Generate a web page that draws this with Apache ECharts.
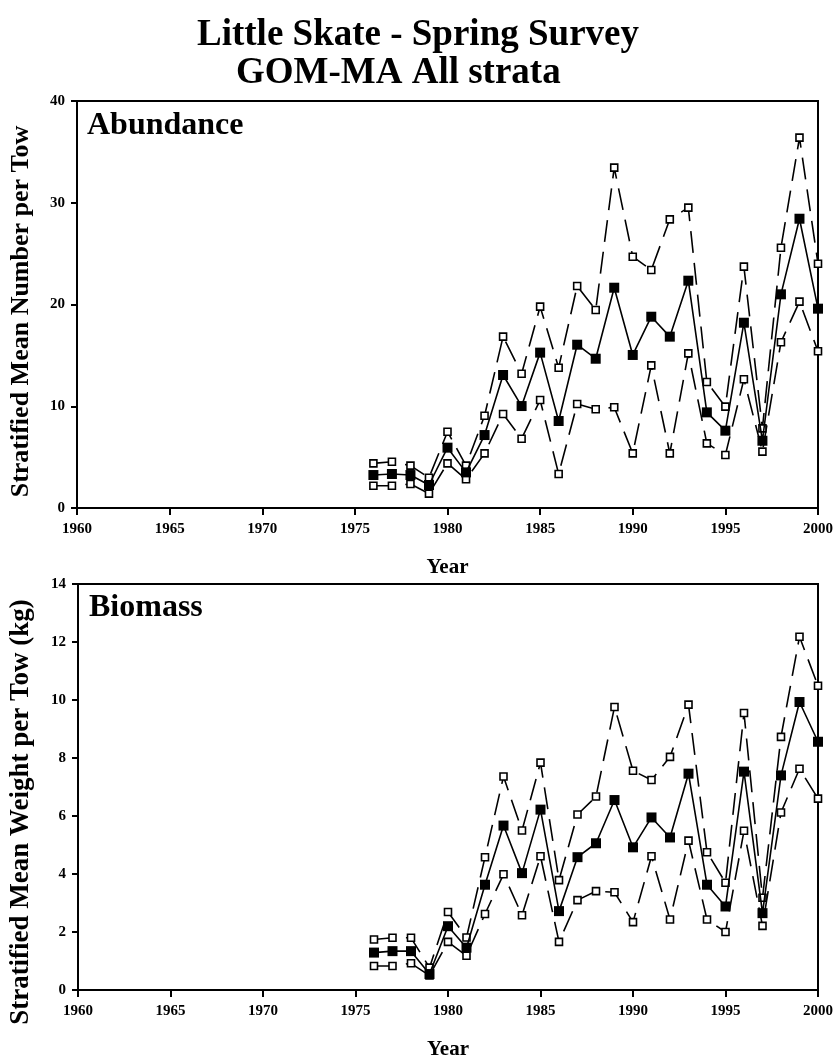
<!DOCTYPE html>
<html>
<head>
<meta charset="utf-8">
<script src="https://cdn.jsdelivr.net/npm/echarts@6/dist/echarts.min.js"></script>
<style>
html,body{margin:0;padding:0;background:#fff;}
#chart{width:836px;height:1061px;}
</style>
</head>
<body>
<div id="chart"></div>
<script>
var years = [1976,1977,1978,1979,1980,1981,1982,1983,1984,1985,1986,1987,1988,1989,1990,1991,1992,1993,1994,1995,1996,1997,1998,1999,2000];
var abundanceMean  = [3.24,3.34,3.24,2.26,5.93,3.5,7.17,13.07,10.02,15.27,8.55,16.05,14.67,21.65,15.04,18.8,16.84,22.34,9.4,7.6,18.21,6.61,21.0,28.43,19.59];
var abundanceUpper = [4.39,4.55,4.16,2.98,7.5,4.16,9.07,16.84,13.2,19.79,13.79,21.82,19.46,33.45,24.7,23.39,28.37,29.52,12.38,9.96,23.72,7.83,25.58,36.4,24.01];
var abundanceLower = [2.19,2.19,2.36,1.41,4.39,2.82,5.37,9.24,6.81,10.61,3.34,10.22,9.7,9.9,5.37,14.02,5.37,15.2,6.35,5.21,12.65,5.54,16.29,20.28,15.4];
var biomassMean  = [1.29,1.34,1.34,0.55,2.2,1.46,3.63,5.67,4.03,6.22,2.72,4.58,5.06,6.55,4.92,5.95,5.26,7.46,3.63,2.88,7.53,2.65,7.4,9.93,8.56];
var biomassUpper = [1.74,1.8,1.8,0.77,2.69,1.81,4.58,7.36,5.5,7.84,3.79,6.05,6.67,9.76,7.56,7.24,8.04,9.84,4.75,3.7,9.55,3.18,8.73,12.18,10.49];
var biomassLower = [0.83,0.83,0.92,0.5,1.66,1.18,2.62,3.99,2.58,4.61,1.66,3.1,3.41,3.37,2.34,4.61,2.43,5.15,2.43,2.0,5.49,2.21,6.12,7.63,6.6];

var SERIF = '"Liberation Serif","Times New Roman",serif';
function pairs(v){ return years.map(function(y,i){ return [y, v[i]]; }); }

function meanSeries(v, idx){
  return {type:'line', xAxisIndex:idx, yAxisIndex:idx, data:pairs(v), symbol:'rect', symbolSize:10,
    itemStyle:{color:'#000'}, lineStyle:{color:'#000', width:1.6}, z:3, animation:false};
}
function ciSeries(v, idx){
  return {type:'line', xAxisIndex:idx, yAxisIndex:idx, data:pairs(v), symbol:'rect', symbolSize:7,
    itemStyle:{color:'#fff', borderColor:'#000', borderWidth:1.6},
    lineStyle:{color:'#000', width:1.6, type:[22,10]}, z:2, animation:false};
}
function xAx(idx){
  return {gridIndex:idx, type:'value', min:1960, max:2000, interval:5,
    name:'Year', nameLocation:'middle', nameGap:49,
    nameTextStyle:{fontFamily:SERIF, fontWeight:'bold', fontSize:21, color:'#000'},
    axisLine:{lineStyle:{color:'#000', width:2}},
    axisTick:{length:7, lineStyle:{color:'#000', width:2}},
    axisLabel:{fontFamily:SERIF, fontWeight:'bold', fontSize:15, color:'#000', margin:14,
      formatter:function(v){ return String(v); }},
    splitLine:{show:false}};
}
function yAx(idx, max, interval, name, fs, pad){
  return {gridIndex:idx, type:'value', min:0, max:max, interval:interval,
    name:name, nameLocation:'middle', nameGap:43,
    nameTextStyle:{fontFamily:SERIF, fontWeight:'bold', fontSize:fs, color:'#000', padding:[0,pad,0,0]},
    axisLine:{lineStyle:{color:'#000', width:2}},
    axisTick:{length:6, lineStyle:{color:'#000', width:2}},
    axisLabel:{fontFamily:SERIF, fontWeight:'bold', fontSize:15, color:'#000', margin:12,
      formatter:function(v){ return String(v); }},
    splitLine:{show:false}};
}

var chart = echarts.init(document.getElementById('chart'), null, {renderer:'canvas'});
chart.setOption({
  backgroundColor:'#fff',
  animation:false,
  title:[
    {text:'Little Skate - Spring Survey', left:'center', top:17, padding:0,
      textStyle:{fontFamily:SERIF, fontWeight:'bold', fontSize:37, color:'#000'}},
    {text:'GOM-MA All strata', left:236, top:55, padding:0,
      textStyle:{fontFamily:SERIF, fontWeight:'bold', fontSize:37, color:'#000'}},
    {text:'Abundance', left:87, top:110, padding:0,
      textStyle:{fontFamily:SERIF, fontWeight:'bold', fontSize:32, color:'#000'}},
    {text:'Biomass', left:89, top:592, padding:0,
      textStyle:{fontFamily:SERIF, fontWeight:'bold', fontSize:32, color:'#000'}}
  ],
  grid:[
    {left:74, top:101, width:745, height:407, show:true, borderColor:'#000', borderWidth:2, backgroundColor:'transparent'},
    {left:74, top:584, width:745, height:406, show:true, borderColor:'#000', borderWidth:2, backgroundColor:'transparent'}
  ],
  xAxis:[xAx(0), xAx(1)],
  yAxis:[yAx(0, 40, 10, 'Stratified Mean Number per Tow', 26, 14), yAx(1, 14, 2, 'Stratified Mean Weight per Tow (kg)', 27, 50)],
  series:[
    meanSeries(abundanceMean,0), ciSeries(abundanceUpper,0), ciSeries(abundanceLower,0),
    meanSeries(biomassMean,1), ciSeries(biomassUpper,1), ciSeries(biomassLower,1)
  ]
});
</script>
</body>
</html>
